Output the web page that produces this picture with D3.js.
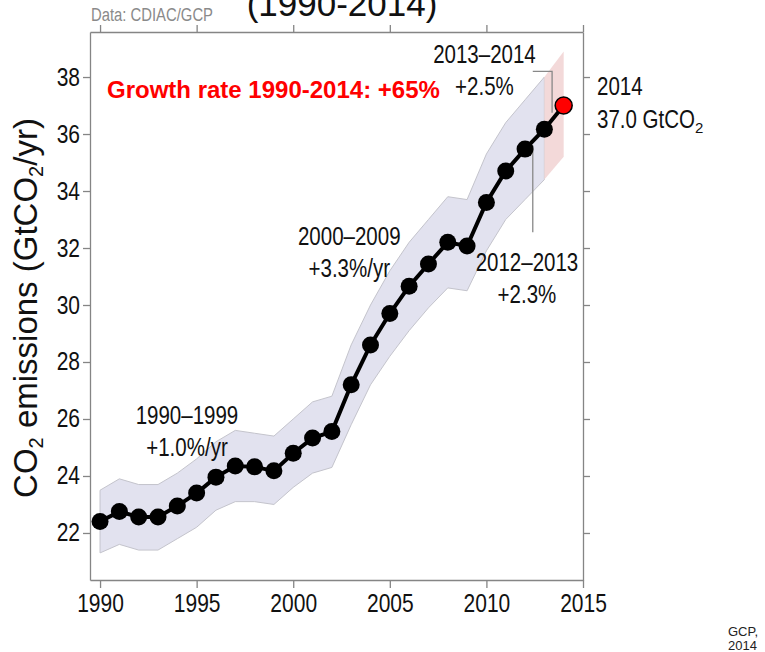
<!DOCTYPE html>
<html>
<head>
  <meta http-equiv="Content-Type" content="text/html;charset=utf-8" />
  <script src="https://cdn.jsdelivr.net/npm/d3@7"></script>
  <style type="text/css">
    body { margin: 0; background: #fff; }
    text { font-family: "Liberation Sans", Arial, sans-serif; }
    .axis path, .axis line { stroke: #858585; stroke-width: 1.3; }
    .axis text { font-size: 25px; fill: #111; }
  </style>
</head>
<body>
  <svg id="c" width="765" height="652"></svg>
  <script>
    // emissions, GtCO2/yr
    const years = [1990, 1991, 1992, 1993, 1994, 1995, 1996, 1997, 1998, 1999, 2000, 2001, 2002,
      2003, 2004, 2005, 2006, 2007, 2008, 2009, 2010, 2011, 2012, 2013, 2014];
    const emissions = [22.4, 22.75, 22.56, 22.56, 22.95, 23.4, 23.96, 24.35, 24.32, 24.18, 24.8, 25.33, 25.56,
      27.2, 28.6, 29.7, 30.66, 31.44, 32.2, 32.07, 33.6, 34.7, 35.47, 36.17, 37.0];
    // uncertainty band edges
    const upper = [23.5, 23.9, 23.7, 23.7, 24.1, 24.6, 25.2, 25.6, 25.5, 25.4, 26.0, 26.6, 26.8,
      28.6, 30.0, 31.2, 32.2, 33.0, 33.8, 33.7, 35.3, 36.4, 37.2, 38.0, 38.9];
    const lower = [21.3, 21.6, 21.4, 21.4, 21.8, 22.2, 22.8, 23.1, 23.1, 23.0, 23.6, 24.1, 24.3,
      25.8, 27.2, 28.2, 29.1, 29.9, 30.6, 30.5, 31.9, 33.0, 33.7, 34.4, 35.2];

    const xTicks = [1990, 1995, 2000, 2005, 2010, 2015];
    const yTicks = [22, 24, 26, 28, 30, 32, 34, 36, 38];

    const labels = [
      { lines: ["1990\u20131999", "+1.0%/yr"], x: 1994.5, y: 25.83 },
      { lines: ["2000\u20132009", "+3.3%/yr"], x: 2002.9, y: 32.1 },
      { lines: ["2012\u20132013", "+2.3%"], x: 2012.1, y: 31.2 },
      { lines: ["2013\u20132014", "+2.5%"], x: 2009.9, y: 38.48 }
    ];

    const svg = d3.select("#c");
    const x = d3.scaleLinear().domain([1989.48, 2015]).range([90, 583]);
    const y = d3.scaleLinear().domain([20.35, 39.58]).range([580, 32]);

    // no narrow font installed: squeeze glyphs horizontally instead
    const squeeze = (sel, k) => sel.each(function () {
      const w = this.getComputedTextLength();
      d3.select(this).attr("textLength", w * k).attr("lengthAdjust", "spacingAndGlyphs");
    });

    const rows = years.map((yr, i) => ({ yr: yr, v: emissions[i], hi: upper[i], lo: lower[i] }));

    // band: blue up to 2013, pink for the last step
    const area = d3.area().x(d => x(d.yr)).y0(d => y(d.lo)).y1(d => y(d.hi));
    svg.append("path")
      .datum(rows.slice(0, rows.length - 1))
      .attr("d", area)
      .attr("fill", "#e2e2ef")
      .attr("stroke", "#c4c4cc")
      .attr("stroke-width", 1);
    svg.append("path")
      .datum(rows.slice(rows.length - 2))
      .attr("d", area)
      .attr("fill", "#f3d9d9");

    // axes
    svg.append("g").attr("class", "axis")
      .attr("transform", "translate(90,0)")
      .call(d3.axisLeft(y).tickValues(yTicks).tickSize(7).tickSizeOuter(0).tickPadding(3));
    svg.append("g").attr("class", "axis")
      .attr("transform", "translate(583,0)")
      .call(d3.axisRight(y).tickValues(yTicks).tickSize(7).tickSizeOuter(0).tickFormat(""));
    svg.append("g").attr("class", "axis")
      .attr("transform", "translate(0,580)")
      .call(d3.axisBottom(x).tickValues(xTicks).tickSize(8).tickSizeOuter(0).tickPadding(6).tickFormat(d3.format("d")));
    svg.append("g").attr("class", "axis")
      .attr("transform", "translate(0,32)")
      .call(d3.axisTop(x).tickValues(xTicks).tickSize(7).tickSizeOuter(0).tickFormat(""));
    svg.selectAll(".axis text").attr("font-family", null).attr("font-size", null);
    squeeze(svg.selectAll(".axis text"), 0.84);

    // leader lines
    const leader = d3.line().x(d => x(d[0])).y(d => y(d[1]));
    svg.append("path")
      .attr("d", leader([[2012.4, 38.2], [2013.4, 38.2], [2013.4, 36.75]]))
      .attr("fill", "none").attr("stroke", "#888").attr("stroke-width", 1.3);
    svg.append("path")
      .attr("d", leader([[2012.4, 35.6], [2012.4, 32.55]]))
      .attr("fill", "none").attr("stroke", "#888").attr("stroke-width", 1.3);

    // series line and dots
    svg.append("path")
      .datum(rows)
      .attr("d", d3.line().x(d => x(d.yr)).y(d => y(d.v)))
      .attr("fill", "none")
      .attr("stroke", "#000")
      .attr("stroke-width", 4);
    svg.selectAll("circle.pt")
      .data(rows)
      .join("circle")
      .attr("class", "pt")
      .attr("cx", d => x(d.yr))
      .attr("cy", d => y(d.v))
      .attr("r", 8.5)
      .attr("fill", d => d.yr === 2014 ? "#ff0000" : "#000")
      .attr("stroke", "#000")
      .attr("stroke-width", d => d.yr === 2014 ? 1.5 : 0);

    // period labels
    labels.forEach(l => {
      const t = svg.append("text")
        .attr("x", x(l.x))
        .attr("y", y(l.y))
        .attr("text-anchor", "middle")
        .attr("font-size", 25)
        .attr("fill", "#111");
      l.lines.forEach((s, i) => {
        t.append("tspan").attr("x", x(l.x)).attr("dy", i === 0 ? 0 : 32).text(s);
      });
      squeeze(t.selectAll("tspan"), 0.82);
    });

    // 2014 value
    const v = svg.append("text").attr("font-size", 25).attr("fill", "#111");
    v.append("tspan").attr("x", 597).attr("y", 95).text("2014");
    v.append("tspan").attr("x", 597).attr("y", 128).text("37.0 GtCO");
    squeeze(v.selectAll("tspan"), 0.82);
    v.append("tspan").attr("font-size", 15).attr("dy", 5).text("2");

    // growth rate
    svg.append("text")
      .attr("x", 107).attr("y", 98)
      .attr("font-weight", "bold")
      .attr("font-size", 24)
      .attr("fill", "#ff0000")
      .text("Growth rate 1990-2014: +65%");

    // y axis title
    const yt = svg.append("text")
      .attr("transform", "translate(37,308) rotate(-90)")
      .attr("text-anchor", "middle")
      .attr("font-size", 33)
      .attr("fill", "#111");
    yt.append("tspan").text("CO");
    yt.append("tspan").attr("font-size", 20).attr("dy", 6).text("2");
    yt.append("tspan").attr("dy", -6).text(" emissions (GtCO");
    yt.append("tspan").attr("font-size", 20).attr("dy", 6).text("2");
    yt.append("tspan").attr("dy", -6).text("/yr)");

    // title remnant, source notes
    svg.append("text")
      .attr("x", 342).attr("y", 16)
      .attr("text-anchor", "middle")
      .attr("font-size", 35)
      .attr("fill", "#111")
      .text("(1990-2014)");
    svg.append("text")
      .attr("x", 91).attr("y", 21)
      .attr("font-size", 18)
      .attr("fill", "#8a8a8a")
      .attr("textLength", 122)
      .attr("lengthAdjust", "spacingAndGlyphs")
      .text("Data: CDIAC/GCP");
    const g = svg.append("text")
      .attr("font-size", 13)
      .attr("fill", "#222");
    g.append("tspan").attr("x", 728).attr("y", 636).text("GCP,");
    g.append("tspan").attr("x", 728).attr("y", 650).text("2014");
  </script>
</body>
</html>
